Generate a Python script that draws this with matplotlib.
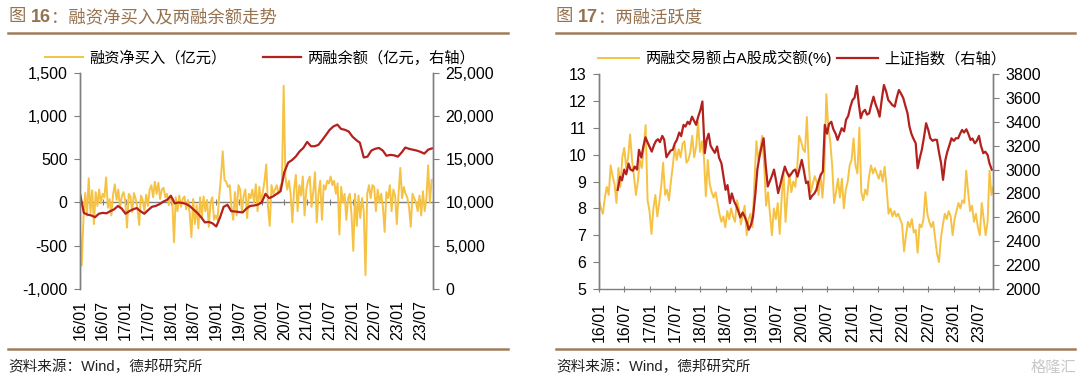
import numpy as np
import pandas as pd
import matplotlib
matplotlib.use('Agg')
import matplotlib.pyplot as plt
import matplotlib.dates as mdates
from matplotlib.ticker import FuncFormatter

plt.rcParams['font.family'] = ['Liberation Sans', 'Noto Sans CJK SC']
plt.rcParams['axes.unicode_minus'] = False

# ---------------- data ----------------
tick_labels = ['16/01', '16/07', '17/01', '17/07', '18/01', '18/07', '19/01', '19/07',
               '20/01', '20/07', '21/01', '21/07', '22/01', '22/07', '23/01', '23/07']

# Fig 16: net financing purchase (biweekly, 亿元)
net_buy = [
    -300, -730, -180, 110, -150, 280, -120, 140, -250, 120,
    -40, 150, -10, 100, 60, 290, -60, 40, -150, 90,
    210, 30, 150, -60, 70, 120, 20, -290, 100, 70,
    -110, 110, 40, -60, -260, 80, 30, -100, 90, -40,
    150, 200, 60, 240, 100, 230, 40, 150, 170, 60,
    100, -30, 80, 20, -460, 60, -100, 80, -50, 40,
    70, -80, 30, -120, -400, 40, -250, -30, -300, 60,
    -180, 70, -100, 30, -280, 0, 60, -200, -150, -200,
    80, 300, 590, 260, 240, 180, 200, -50, -200, 120,
    -150, 200, 150, -100, 80, 150, -180, 100, 50, 150,
    0, 210, -100, 180, 0, 120, 250, 440, -50, -270,
    200, 100, 150, 200, 100, 180, 230, 1350, 300, 150,
    250, 100, -230, 150, 320, -100, 200, 80, 300, -150,
    150, 250, 300, -50, 120, 350, -230, 100, 250, -200,
    200, 150, 250, 220, 300, 200, 250, 100, 220, -370,
    180, 0, 100, -200, 50, 100, -150, -560, 100, -270,
    80, -180, 50, -100, -840, 100, 200, 50, 200, 180,
    -100, 150, 0, 100, -50, -340, 120, 50, 200, -100,
    150, 80, -250, 100, 400, 50, 180, 100, 60, -50,
    -280, 100, 50, 0, -100, 80, -150, 130, -100, 50,
    430, 0, 260,
]

# Fig 16: margin balance (monthly, 亿元)
margin_balance = [
    11000, 8800, 8600, 8500, 8300, 8700, 8800, 8750, 9000, 9200,
    9600, 9300, 8700, 9000, 9200, 9350, 9000, 8700, 9100, 9500,
    9600, 9800, 10100, 10300, 10770, 9900, 10000, 9950, 9850, 9600,
    9200, 8800, 8300, 7700, 7750, 7600, 7230, 8300, 9500, 9730,
    9000, 8960, 8900, 8850, 9300, 9600, 9650, 9750, 10000, 11000,
    10500, 10700, 11000, 11300, 13500, 14600, 14900, 15300, 15900, 16300,
    17000, 16500, 16500, 16650, 17200, 17800, 18400, 18800, 19000, 18500,
    18400, 18200, 17600, 17200, 16900, 15200, 15300, 16000, 16200, 16300,
    16000, 15400, 15500, 15450, 15300, 15800, 16350, 16200, 16100, 16000,
    15850, 15650, 16100, 16250,
]

# Fig 17: margin trading share of A-share turnover (biweekly, %)
margin_share = [
    8.3, 8.0, 7.8, 8.4, 8.8, 8.5, 9.6, 9.2, 8.9, 8.2,
    9.5, 8.8, 9.9, 10.25, 9.5, 9.9, 10.75, 9.8, 9.2, 8.5,
    9.0, 9.8, 9.5, 10.2, 11.1, 8.3, 7.9, 7.05, 8.0, 8.5,
    7.7, 8.2, 8.8, 9.7, 8.5, 8.7, 8.3, 9.0, 9.6, 10.3,
    9.8, 10.2, 9.9, 10.4, 10.5, 9.7, 9.8, 10.1, 10.7, 9.9,
    10.3, 11.2, 10.1, 10.5, 9.9, 8.45, 9.8, 8.9, 8.6, 8.4,
    8.6, 8.2, 7.8, 7.5, 7.7, 7.3, 7.9, 7.6, 8.0, 7.7,
    7.5, 8.3, 8.0, 7.4, 7.8, 8.1, 7.0, 7.6, 7.8, 7.3,
    9.0, 10.5, 9.8, 10.2, 10.7, 9.6, 8.1, 8.6, 7.8, 7.0,
    8.0, 7.6, 8.2, 7.05, 8.4, 9.3, 7.5, 8.5, 9.3, 8.6,
    9.0, 8.8, 9.5, 10.7, 10.5, 10.2, 10.1, 11.4, 9.6, 8.6,
    8.9, 9.2, 9.0, 8.5, 9.3, 8.4, 9.4, 12.25, 11.0, 10.5,
    9.6, 8.2, 8.6, 9.1, 8.4, 9.1, 8.0, 8.7, 9.0, 9.6,
    9.8, 10.6, 9.6, 9.3, 11.0, 8.6, 8.3, 8.7, 8.5, 9.2,
    9.6, 9.3, 9.5, 9.3, 9.1, 9.4, 9.0, 9.55, 8.8, 7.8,
    8.0, 7.7, 7.9, 7.7, 7.8, 7.6, 7.4, 6.4, 7.0, 7.5,
    7.3, 7.6, 7.1, 7.2, 6.35, 7.4, 7.3, 7.6, 8.6, 7.8,
    7.5, 7.3, 7.5, 6.9, 6.3, 6.0, 6.9, 7.4, 7.8, 7.6,
    7.9, 7.7, 7.0, 7.6, 7.9, 8.2, 8.0, 8.3, 8.2, 9.4,
    8.6, 7.9, 8.1, 7.5, 7.8, 7.3, 7.0, 8.2, 7.6, 7.0,
    7.5, 9.4, 8.5, 8.8,
]

# Fig 17: Shanghai Composite (semi-monthly from 2016-05-15)
sh_index = [
    2830, 2940, 2910, 3000, 2960, 3050, 3000, 2990, 3025, 3000,
    3165, 3100, 3190, 3270, 3230, 3187, 3150, 3207, 3240, 3254,
    3230, 3282, 3250, 3103, 3130, 3160, 3165, 3220, 3248, 3310,
    3280, 3374, 3360, 3400, 3380, 3443, 3410, 3374, 3440, 3500,
    3570, 3137, 3250, 3300, 3200, 3165, 3140, 3193, 3100, 3053,
    2950, 2830, 2870, 2719, 2800, 2733, 2700, 2650, 2600, 2640,
    2608, 2560, 2496, 2540, 2608, 2800, 3000, 3100, 3180, 3262,
    3050, 2858, 2900, 2950, 3000, 2900, 2803, 2880, 2950, 3025,
    2980, 2942, 2960, 2990, 3000, 2940, 3000, 3081, 3000, 2886,
    2900, 2753, 2780, 2800, 2830, 2900, 2950, 2984, 3374, 3300,
    3380, 3400, 3340, 3300, 3248, 3300, 3346, 3320, 3416, 3450,
    3520, 3583, 3600, 3700, 3550, 3430, 3480, 3500, 3460, 3471,
    3540, 3610, 3550, 3500, 3443, 3600, 3708, 3650, 3583, 3560,
    3540, 3527, 3600, 3666, 3638, 3600, 3540, 3471, 3360, 3300,
    3260, 3220, 3011, 3100, 3165, 3280, 3388, 3330, 3262, 3240,
    3250, 3248, 3150, 3053, 2914, 3081, 3150, 3207, 3262, 3240,
    3262, 3262, 3300, 3332, 3310, 3337, 3300, 3248, 3260, 3220,
    3240, 3282, 3200, 3137, 3150, 3123, 3050, 3000,
]

# ---------------- style ----------------
YEL = '#F6C244'
RED = '#B3211E'
GRAY = '#7F7F7F'
BROWN = '#A07D5A'
TITLE_C = '#96724F'

W, H = 1080, 383
fig = plt.figure(figsize=(W / 100, H / 100), dpi=100)


def fx(px):
    return px / W


def fy(py):
    return 1 - py / H


tick_dates = mdates.date2num(pd.date_range('2016-01-01', periods=len(tick_labels), freq='6MS'))
xmin = mdates.date2num(pd.Timestamp('2016-01-01'))
xmax = mdates.date2num(pd.Timestamp('2023-10-10'))

x_nb = mdates.date2num(pd.date_range('2016-01-01', periods=len(net_buy), freq='14D'))
x_bal = mdates.date2num(pd.date_range('2016-01-01', periods=len(margin_balance), freq='MS'))
x_share = mdates.date2num(pd.date_range('2016-01-01', periods=len(margin_share), freq='14D'))
x_sh = mdates.date2num(pd.date_range('2016-05-15', periods=len(sh_index), freq='SMS'))

TICK_FS = 11.5


def style_axes(ax):
    ax.spines['top'].set_visible(False)
    for s in ['left', 'right', 'bottom']:
        ax.spines[s].set_color(GRAY)
        ax.spines[s].set_linewidth(1.0)
    ax.tick_params(axis='y', direction='out', length=4, color=GRAY, labelsize=TICK_FS, pad=5)


# ---------------- left panel ----------------
ax1 = fig.add_axes([fx(80), fy(289), fx(433) - fx(80), fy(72.7) - fy(289)])
ax1b = ax1.twinx()
l1, = ax1.plot(x_nb, net_buy, color=YEL, lw=1.4, label='融资净买入（亿元）')
l2, = ax1b.plot(x_bal, margin_balance, color=RED, lw=1.6, label='两融余额（亿元，右轴）')
ax1.set_ylim(-1000, 1500)
ax1.set_yticks(range(-1000, 1501, 500))
ax1b.set_ylim(0, 25000)
ax1b.set_yticks(range(0, 25001, 5000))
fmt = FuncFormatter(lambda v, p: f'{v:,.0f}')
ax1.yaxis.set_major_formatter(fmt)
ax1b.yaxis.set_major_formatter(fmt)
ax1.set_xlim(xmin, xmax)
style_axes(ax1)
style_axes(ax1b)
ax1b.tick_params(axis='y', pad=5)
for a in (ax1, ax1b):
    a.spines['bottom'].set_visible(False)
ax1.set_xticks(tick_dates)
ax1.set_xticklabels(tick_labels, rotation=90)
ax1.tick_params(axis='x', length=0, labelsize=TICK_FS, pad=8)
zero_loc = (0 - (-1000)) / (1500 - (-1000))
sec = ax1.secondary_xaxis(zero_loc)
sec.set_xticks(tick_dates)
sec.tick_params(axis='x', labelbottom=False, labeltop=False, direction='inout', length=4, color=GRAY)
sec.spines['bottom'].set_color(GRAY)
sec.spines['bottom'].set_linewidth(1.0)

fig.legend(handles=[l1, l2], loc='center', bbox_to_anchor=(fx(260), fy(58)), ncol=2,
           frameon=False, fontsize=11, handlelength=2.5, handletextpad=0.4,
           columnspacing=2.4, borderaxespad=0)

# ---------------- right panel ----------------
ax2 = fig.add_axes([fx(599), fy(289), fx(993) - fx(599), fy(74) - fy(289)])
ax2b = ax2.twinx()
l3, = ax2.plot(x_share, margin_share, color=YEL, lw=1.4, label='两融交易额占A股成交额(%)')
l4, = ax2b.plot(x_sh, sh_index, color=RED, lw=1.6, label='上证指数（右轴）')
ax2.set_ylim(5, 13)
ax2.set_yticks(range(5, 14))
ax2b.set_ylim(2000, 3800)
ax2b.set_yticks(range(2000, 3801, 200))
ax2.set_xlim(xmin, xmax)
style_axes(ax2)
style_axes(ax2b)
ax2b.tick_params(axis='y', pad=5)
ax2b.spines['bottom'].set_visible(False)
ax2.set_xticks(tick_dates)
ax2.set_xticklabels(tick_labels, rotation=90)
ax2.tick_params(axis='x', direction='inout', length=5, color=GRAY, labelsize=TICK_FS, pad=7)

fig.legend(handles=[l3, l4], loc='center', bbox_to_anchor=(fx(802), fy(58)), ncol=2,
           frameon=False, fontsize=11, handlelength=2.7, handletextpad=0.4,
           columnspacing=0.3, borderaxespad=0)

# ---------------- titles, rules, source ----------------
renderer = fig.canvas.get_renderer()


def title(x_px, y_px, num, rest):
    t1 = fig.text(fx(x_px), fy(y_px), '图 ', fontsize=12.5, color=TITLE_C, va='center', ha='left')
    bb = t1.get_window_extent(renderer)
    t2 = fig.text(bb.x1 / W, fy(y_px), num, fontsize=13, color=TITLE_C, va='center', ha='left',
                  fontweight='bold')
    bb = t2.get_window_extent(renderer)
    fig.text(bb.x1 / W, fy(y_px), '：' + rest, fontsize=12.5, color=TITLE_C, va='center', ha='left')


title(9, 17, '16', '融资净买入及两融余额走势')
title(556, 17, '17', '两融活跃度')

for (x0, x1) in [(8, 508), (556, 1075)]:
    fig.add_artist(plt.Line2D([fx(x0), fx(x1)], [fy(33), fy(33)], color=BROWN, lw=1.8))
    fig.add_artist(plt.Line2D([fx(x0), fx(x1)], [fy(348.5), fy(348.5)], color=BROWN, lw=1.8))

fig.text(fx(8), fy(367), '资料来源：Wind，德邦研究所', fontsize=10.5, color='#222222', va='center', ha='left')
fig.text(fx(556), fy(367), '资料来源：Wind，德邦研究所', fontsize=10.5, color='#222222', va='center', ha='left')
fig.text(fx(1076), fy(368), '格隆汇', fontsize=11, color='#C8C8C8', va='center', ha='right')

fig.savefig('out.png', dpi=100)
